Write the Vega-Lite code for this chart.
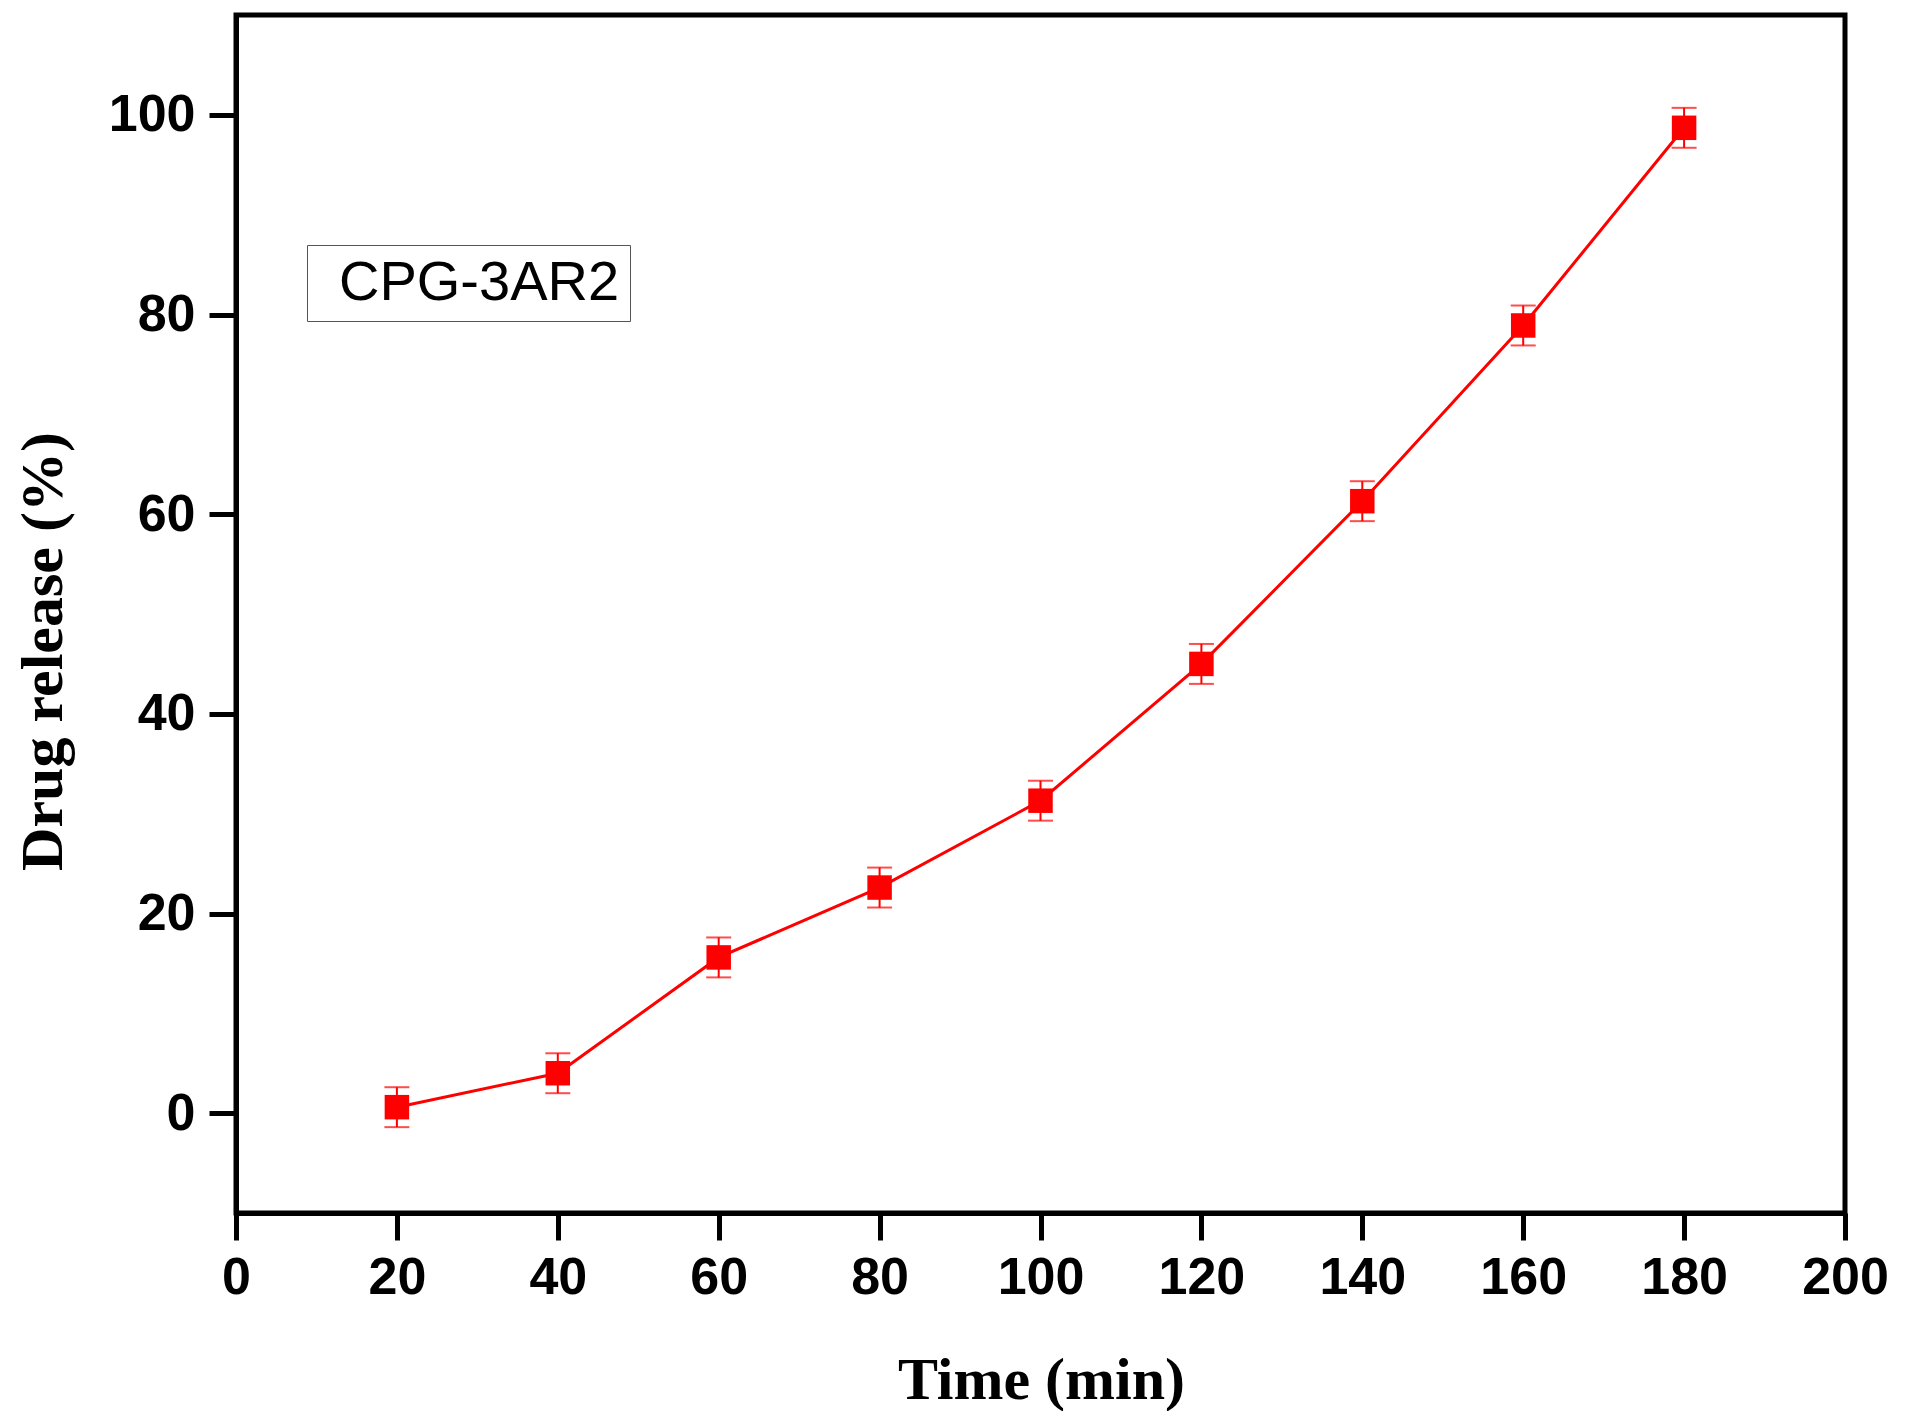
{
  "$schema": "https://vega.github.io/schema/vega-lite/v6.json",
  "width": 1609,
  "height": 1198,
  "autosize": {"type": "none"},
  "padding": {"left": 236, "top": 15, "right": 69, "bottom": 198},
  "background": "#ffffff",
  "data": {
    "values": [
      {"time": 20, "release": 0.6, "err": 2.0, "series": "CPG-3AR2"},
      {"time": 40, "release": 4.0, "err": 2.0, "series": "CPG-3AR2"},
      {"time": 60, "release": 15.6, "err": 2.0, "series": "CPG-3AR2"},
      {"time": 80, "release": 22.6, "err": 2.0, "series": "CPG-3AR2"},
      {"time": 100, "release": 31.3, "err": 2.0, "series": "CPG-3AR2"},
      {"time": 120, "release": 45.0, "err": 2.0, "series": "CPG-3AR2"},
      {"time": 140, "release": 61.3, "err": 2.0, "series": "CPG-3AR2"},
      {"time": 160, "release": 78.9, "err": 2.0, "series": "CPG-3AR2"},
      {"time": 180, "release": 98.7, "err": 2.0, "series": "CPG-3AR2"}
    ]
  },
  "encoding": {
    "x": {
      "field": "time",
      "type": "quantitative",
      "scale": {"domain": [0, 200], "nice": false, "zero": false},
      "axis": {
        "title": "Time (min)",
        "values": [0, 20, 40, 60, 80, 100, 120, 140, 160, 180, 200],
        "grid": false,
        "labelFlush": false,
        "labelBound": false,
        "labelOverlap": false,
        "titleX": 805,
        "titleY": 185,
        "titleAnchor": null,
        "titleAlign": "center",
        "titleBaseline": "alphabetic"
      }
    },
    "y": {
      "field": "release",
      "type": "quantitative",
      "title": "Drug release (%)",
      "scale": {"domain": [-10, 110], "nice": false, "zero": false},
      "axis": {
        "title": "Drug release (%)",
        "values": [0, 20, 40, 60, 80, 100],
        "grid": false,
        "labelFlush": false,
        "labelOverlap": false,
        "titleX": -193,
        "titleY": 636,
        "titleAnchor": null,
        "titleAlign": "center",
        "titleBaseline": "middle",
        "titleAngle": -90
      }
    },
    "color": {
      "field": "series",
      "type": "nominal",
      "scale": {"range": ["#ff0000"]},
      "legend": {
        "title": null,
        "orient": "none",
        "legendX": 71,
        "legendY": 230,
        "symbolSize": 0,
        "symbolOpacity": 0,
        "symbolStrokeWidth": 0,
        "labelOffset": -34,
        "padding": 10,
        "strokeColor": "#555555",
        "labelFont": "Liberation Sans",
        "labelFontSize": 56,
        "labelFontWeight": "normal",
        "labelColor": "#000000",
        "labelLimit": 0
      }
    }
  },
  "layer": [
    {
      "mark": {"type": "line", "strokeWidth": 3}
    },
    {
      "mark": {
        "type": "errorbar",
        "ticks": {"size": 25, "thickness": 2},
        "rule": {"strokeWidth": 2}
      },
      "encoding": {
        "yError": {"field": "err"}
      }
    },
    {
      "mark": {"type": "point", "shape": "square", "filled": true, "size": 600, "opacity": 1}
    }
  ],
  "config": {
    "view": {"stroke": "#000000", "strokeWidth": 5},
    "axis": {
      "domainColor": "#000000",
      "domainWidth": 5,
      "tickColor": "#000000",
      "tickWidth": 5,
      "tickSize": 27,
      "labelFont": "Liberation Sans",
      "labelFontWeight": "bold",
      "labelFontSize": 52,
      "labelColor": "#000000",
      "titleFont": "Liberation Serif",
      "titleFontWeight": "bold",
      "titleFontSize": 60,
      "titleColor": "#000000"
    },
    "axisX": {"labelPadding": 12},
    "axisY": {"labelPadding": 14}
  }
}
